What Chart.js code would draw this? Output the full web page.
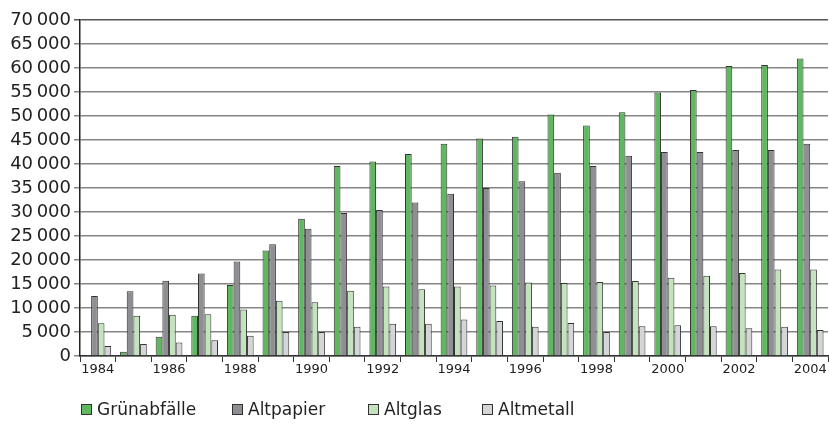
<!DOCTYPE html>
<html>
<head>
<meta charset="utf-8">
<script src="https://cdn.jsdelivr.net/npm/chart.js@4"></script>
<style>
  html, body { margin: 0; padding: 0; background: #fff; }
  #wrap { width: 829px; height: 426px; }
</style>
</head>
<body>
<div id="wrap"><canvas id="c" width="829" height="426"></canvas></div>
<script>
// Jahre 1984–2004
const years = ['1984','1985','1986','1987','1988','1989','1990','1991','1992','1993','1994',
               '1995','1996','1997','1998','1999','2000','2001','2002','2003','2004'];

// Sammelmengen je Fraktion
const gruenabfaelle = [100, 900, 4000, 8400, 14800, 22000, 28600, 39600, 40500, 42100, 44200,
                       45300, 45700, 50300, 48000, 50800, 54900, 55400, 60400, 60600, 62000];
const altpapier     = [12500, 13500, 15700, 17200, 19700, 23300, 26500, 29800, 30400, 32000, 33800,
                       35000, 36400, 38200, 39600, 41700, 42500, 42500, 42900, 42900, 44200];
const altglas       = [6800, 8400, 8600, 8700, 9700, 11500, 11200, 13600, 14500, 13900, 14500,
                       14700, 15300, 15200, 15400, 15600, 16300, 16700, 17300, 18000, 18000];
const altmetall     = [2100, 2500, 2800, 3300, 4200, 5000, 5000, 6100, 6700, 6700, 7600,
                       7300, 6100, 6900, 5000, 6200, 6400, 6200, 5800, 6100, 5400];

// Beschriftung der y-Achse
const yTicks = [0, 5000, 10000, 15000, 20000, 25000, 30000, 35000, 40000, 45000, 50000, 55000, 60000, 65000, 70000];

const FONT = '"DejaVu Sans", "Liberation Sans", sans-serif';
const EDGE = '#333333';

function fmt(v) {
  return String(v).replace(/\B(?=(\d{3})+(?!\d))/g, '\u2009');
}

function series(label, data, color) {
  return {
    label, data,
    backgroundColor: color,
    borderColor: EDGE,
    borderWidth: 1,
    borderSkipped: 'bottom',
    categoryPercentage: 0.75,
    barPercentage: 1.0
  };
}

// Legende unter dem Diagramm: Kästchen mit Rahmen, feste Spaltenpositionen
const legendX = [81, 232, 368, 482];
const bottomLegend = {
  id: 'bottomLegend',
  afterDraw(chart) {
    const ctx = chart.ctx;
    ctx.save();
    ctx.font = '17px ' + FONT;
    ctx.textBaseline = 'middle';
    ctx.textAlign = 'left';
    chart.data.datasets.forEach((ds, i) => {
      const x = legendX[i], y = 404;
      ctx.fillStyle = ds.backgroundColor;
      ctx.fillRect(x, y, 10, 10);
      ctx.strokeStyle = EDGE;
      ctx.lineWidth = 1;
      ctx.strokeRect(x + 0.5, y + 0.5, 10, 10);
      ctx.fillStyle = '#222';
      ctx.fillText(ds.label, x + 16, y + 7);
    });
    ctx.restore();
  }
};

new Chart(document.getElementById('c'), {
  type: 'bar',
  data: {
    labels: years,
    datasets: [
      series('Grünabfälle', gruenabfaelle, '#5fb75f'),
      series('Altpapier', altpapier, '#8e8f93'),
      series('Altglas', altglas, '#c3e3bd'),
      series('Altmetall', altmetall, '#d3d5d7')
    ]
  },
  plugins: [bottomLegend],
  options: {
    responsive: false,
    animation: false,
    layout: { padding: { top: 20, right: 1, left: 0, bottom: 42 } },
    plugins: {
      tooltip: { enabled: false },
      legend: { display: false }
    },
    scales: {
      x: {
        offset: true,
        grid: {
          offset: true,
          drawOnChartArea: false,
          drawTicks: true,
          tickLength: 6,
          color: '#333',
          lineWidth: 1
        },
        border: { color: '#333', width: 1.5 },
        ticks: {
          autoSkip: false,
          maxRotation: 0,
          padding: 0,
          color: '#222',
          font: { family: FONT, size: 13 },
          callback: function (v, i) { return i % 2 === 0 ? years[i] : ''; }
        },
        afterFit: function (s) { s.height = 28; }
      },
      y: {
        min: 0,
        max: 70000,
        afterBuildTicks: function (s) { s.ticks = yTicks.map(v => ({ value: v })); },
        grid: {
          color: function (c) { return c.tick && c.tick.value === 70000 ? '#555' : '#858585'; },
          lineWidth: 1.5,
          tickLength: 6,
          drawTicks: true
        },
        border: { color: '#222', width: 1.5 },
        ticks: {
          autoSkip: false,
          padding: 3,
          color: '#222',
          font: { family: FONT, size: 18 },
          callback: function (v) { return fmt(v); }
        },
        afterFit: function (s) { s.width = 80; }
      }
    }
  }
});
</script>
</body>
</html>
